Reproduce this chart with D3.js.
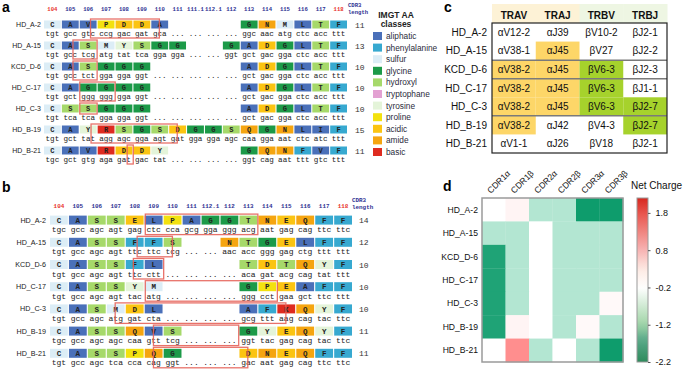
<!DOCTYPE html>
<html>
<head>
<meta charset="utf-8">
<script src="https://cdn.jsdelivr.net/npm/d3@7"></script>
<style>
body { margin: 0; background: #fff; }
svg { display: block; }
</style>
</head>
<body>
<svg id="fig" width="685" height="369"></svg>
<script>
var clones = ['HD_A-2', 'HD_A-15', 'KCD_D-6', 'HD_C-17', 'HD_C-3', 'HD_B-19', 'HD_B-21'];

// panel a - CDR3 alpha
var alphaPositions = ['104','105','106','107','108','109','110','111','111.1','112.1','112','113','114','115','116','117','118'];
var alphaAA = [
    'CAVPDDA----GNMLTF',
    'CASMYSGG--GADGLTF',
    'CASGGG-----ADGLTF',
    'CAGGGG-----ADGLTF',
    'CSSGGG-----ADGLTF',
    'CAYRSGSDGGSQGNLIF',
    'CAVRDDY----GQNFVF'
];
var alphaCodons = [
    'tgt gcc gtc ccg gac gat gca ... ... ... ... ggc aac atg ctc acc ttt',
    'tgt gcc tcg atg tat tca gga gga ... ... ggt gct gac gga ctc acc ttt',
    'tgt gcc tct gga gga ggt ... ... ... ... ... gct gac gga ctc acc ttt',
    'tgt gct ggg ggg gga ggt ... ... ... ... ... gct gac gga ctc acc ttt',
    'tgt tca tca gga gga ggt ... ... ... ... ... gct gac gga ctc acc ttt',
    'tgt gct tat agg agc gga agt gat gga gga agc caa gga aat ctc atc ttt',
    'tgc gct gtg aga gat gac tat ... ... ... ... ggt cag aat ttt gtc ttt'
];
var alphaLength = [11, 13, 10, 10, 10, 15, 11];
// boxed region per clone: [from column, to column, rows covered (2 = aa + codon)]
var alphaBoxes = [[2.6, 6.45, 2], [1.62, 2.97, 2], [1.62, 2.97, 2], [2.0, 3.98, 2], [2.0, 2.97, 1], [2.63, 7.45, 2], [4.65, 4.99, 2]];

// panel b - CDR3 beta
var betaPositions = ['104','105','106','107','108','109','110','111','112.1','112','113','114','115','116','117','118'];
var betaAA = [
    'CASSELPAGGTNEQFF',
    'CASSFFS--NTGELFF',
    'CASSFL----TDTQYF',
    'CASSYM----GPEAFF',
    'CASMDL----AFKQYF',
    'CASSQVS---GYEQYF',
    'CASSPQG---DNEQFF'
];
var betaCodons = [
    'tgc gcc agc agt gag ctc cca gcg gga ggg acg aat gag cag ttc ttc',
    'tgt gcc agc agt ttc ttc tcg ... ... aac acc ggg gag ctg ttt ttt',
    'tgt gcc agc agt ttc ctt ... ... ... ... aca gat acg cag tat ttt',
    'tgt gcc agc agt tac atg ... ... ... ... ggg cct gaa gct ttc ttt',
    'tgt gcc agc atg gat cta ... ... ... ... gcg ttt aag cag tac ttc',
    'tgc gcc agc agc caa gtt tcg ... ... ... ggt tac gag cag tac ttc',
    'tgt gcc agc tca cca cag ggt ... ... ... gac aat gag cag ttc ttc'
];
var betaLength = [14, 12, 10, 10, 10, 11, 11];
var betaBoxes = [[5.03, 10.97, 2], [4.6, 6.46, 2], [4.4, 6.0, 2], [5.03, 12.0, 2], [3.44, 12.45, 2], [5.46, 9.96, 2], [5.46, 10.44, 2]];

// IMGT amino acid classes
var classNames = ['aliphatic', 'phenylalanine', 'sulfur', 'glycine', 'hydroxyl', 'tryptophane', 'tyrosine', 'proline', 'acidic', 'amide', 'basic'];
var classColors = ['#4a70b9', '#37a9d0', '#dcedf6', '#1c9a48', '#a6d96a', '#e3a1d2', '#e4f4d9', '#f3e10f', '#fbc412', '#f5a510', '#de2b20'];
var classMembers = ['AVLI', 'F', 'CM', 'G', 'ST', 'W', 'Y', 'P', 'DE', 'NQ', 'RHK'];

// panel c - gene usage
var segments = ['TRAV', 'TRAJ', 'TRBV', 'TRBJ'];
var trav = ['αV12-2', 'αV38-1', 'αV38-2', 'αV38-2', 'αV38-2', 'αV38-2', 'αV1-1'];
var traj = ['αJ39', 'αJ45', 'αJ45', 'αJ45', 'αJ45', 'αJ42', 'αJ26'];
var trbv = ['βV10-2', 'βV27', 'βV6-3', 'βV6-3', 'βV6-3', 'βV4-3', 'βV18'];
var trbj = ['βJ2-1', 'βJ2-2', 'βJ2-3', 'βJ1-1', 'βJ2-7', 'βJ2-7', 'βJ2-1'];
var sharedGenes = ['αV38-2', 'αJ45', 'βV6-3', 'βJ2-7'];
var groupBreaks = ['KCD_D-6', 'HD_C-17', 'HD_B-19'];

// panel d - net charge
var cdrs = ['CDR1α', 'CDR1β', 'CDR2α', 'CDR2β', 'CDR3α', 'CDR3β'];
var netCharge = [
    [0, 0.1, -1, -1, -2, -2],
    [-1, -1, 0, -1, -1, -1],
    [-1.9, -1, 0, -1, -1, -1],
    [-1.9, -1, 0, -1, -1, -1],
    [-1.9, -1, 0, -1, -1, 0.05],
    [-1.9, 0.1, 0, -1, 0.05, -1],
    [0, 1, -1, 0, -1, -2]
];
var chargeTicks = [1.8, 0.8, -0.2, -1.2, -2.2];

var svg = d3.select('#fig');
var sans = 'Arial, "Liberation Sans", sans-serif';
var mono = '"Liberation Mono", "DejaVu Sans Mono", monospace';

var aaColor = function(a) {
    for (var i = 0; i < classMembers.length; i++) {
        if (classMembers[i].indexOf(a) >= 0) return classColors[i];
    }
    return '#fff';
};

var drawAlignment = function(cfg) {
    var g = svg.append('g');
    var x = d3.scaleBand().domain(cfg.positions).range(cfg.xRange).paddingInner(0.06);
    var y = d3.scaleBand().domain(clones).range(cfg.yRange);
    var last = cfg.positions.length - 1;

    g.selectAll('.pos').data(cfg.positions).enter().append('text')
        .attr('class', 'pos')
        .attr('x', function(d) { return x(d) + x.bandwidth() / 2; })
        .attr('y', cfg.headerY)
        .attr('text-anchor', 'middle')
        .style('font', 'bold ' + cfg.headFont + 'px ' + mono)
        .style('fill', function(d, i) { return (i == 0 || i == last) ? '#e8322a' : '#2e3192'; })
        .text(function(d) { return d; });

    g.append('text').attr('x', cfg.lenHeadX).attr('y', cfg.lenHeadY)
        .style('font', 'bold ' + cfg.headFont + 'px ' + mono).style('fill', '#2e3192').text('CDR3');
    g.append('text').attr('x', cfg.lenHeadX).attr('y', cfg.lenHeadY + 6.5)
        .style('font', 'bold ' + cfg.headFont + 'px ' + mono).style('fill', '#2e3192').text('length');

    clones.forEach(function(clone, r) {
        var cy = y(clone) + y.bandwidth() / 2;
        var codons = cfg.codons[r].split(' ');
        var cells = cfg.aa[r].split('').map(function(a, i) {
            return {aa: a, pos: cfg.positions[i], codon: codons[i]};
        });
        var row = g.append('g');

        row.append('text')
            .attr('x', cfg.labelX).attr('y', cy + 2.5)
            .attr('text-anchor', 'end')
            .style('font', cfg.labelFont + 'px ' + sans).style('fill', '#222')
            .text(clone);

        var filled = cells.filter(function(c) { return c.aa != '-'; });
        row.selectAll('rect').data(filled).enter().append('rect')
            .attr('x', function(d) { return x(d.pos); })
            .attr('y', cy - cfg.cellH / 2)
            .attr('width', x.bandwidth())
            .attr('height', cfg.cellH)
            .style('fill', function(d) { return aaColor(d.aa); });

        row.selectAll('.aa').data(filled).enter().append('text')
            .attr('class', 'aa')
            .attr('x', function(d) { return x(d.pos) + x.bandwidth() / 2; })
            .attr('y', cy + cfg.aaFont * 0.36)
            .attr('text-anchor', 'middle')
            .style('font', 'bold ' + cfg.aaFont + 'px ' + mono).style('fill', '#222')
            .text(function(d) { return d.aa; });

        row.selectAll('.codon').data(cells).enter().append('text')
            .attr('class', 'codon')
            .attr('x', function(d) { return x(d.pos) + x.bandwidth() / 2; })
            .attr('y', cy + cfg.codonDy)
            .attr('text-anchor', 'middle')
            .style('font', cfg.codonFont + 'px ' + mono).style('fill', '#222')
            .text(function(d) { return d.codon; });

        row.append('text')
            .attr('x', cfg.lenX).attr('y', cy + 3)
            .style('font', cfg.lenFont + 'px ' + mono).style('fill', '#333')
            .text(cfg.lengths[r]);

        var b = cfg.boxes[r];
        var x0 = cfg.xRange[0] + b[0] * x.step(), x1 = cfg.xRange[0] + b[1] * x.step();
        var top = cy - cfg.cellH / 2 - 1.5;
        var bottom = b[2] == 2 ? cy + cfg.codonDy + 2.5 : cy + cfg.cellH / 2 + 1.5;
        row.append('rect')
            .attr('x', x0).attr('y', top)
            .attr('width', x1 - x0).attr('height', bottom - top)
            .style('fill', 'none').style('stroke', '#e6635a').style('stroke-width', 1.3)
            .style('stroke-opacity', 0.9);
    });
};

drawAlignment({
    positions: alphaPositions, aa: alphaAA, codons: alphaCodons, lengths: alphaLength, boxes: alphaBoxes,
    xRange: [44, 347], yRange: [14, 161], cellH: 8, headerY: 11, headFont: 5.6,
    aaFont: 7, codonFont: 7.6, codonDy: 11, labelX: 41, labelFont: 7,
    lenX: 355, lenFont: 8, lenHeadX: 348, lenHeadY: 7
});

drawAlignment({
    positions: betaPositions, aa: betaAA, codons: betaCodons, lengths: betaLength, boxes: betaBoxes,
    xRange: [50, 352], yRange: [209, 364.4], cellH: 9, headerY: 207.5, headFont: 5.9,
    aaFont: 7.5, codonFont: 8, codonDy: 12, labelX: 46, labelFont: 7.2,
    lenX: 359, lenFont: 8, lenHeadX: 352, lenHeadY: 202
});

// legend
var legend = svg.append('g');
legend.append('text').attr('x', 396).attr('y', 18).attr('text-anchor', 'middle')
    .style('font', 'bold 8.5px ' + sans).style('fill', '#222').text('IMGT AA');
legend.append('text').attr('x', 396).attr('y', 27).attr('text-anchor', 'middle')
    .style('font', 'bold 8.5px ' + sans).style('fill', '#222').text('classes');
var ly = d3.scaleBand().domain(classNames).range([30.2, 157.8]);
legend.selectAll('rect').data(classNames).enter().append('rect')
    .attr('x', 373).attr('y', function(d) { return ly(d) + ly.bandwidth() / 2 - 4; })
    .attr('width', 9).attr('height', 8)
    .style('fill', function(d, i) { return classColors[i]; });
legend.selectAll('.lt').data(classNames).enter().append('text')
    .attr('class', 'lt')
    .attr('x', 386).attr('y', function(d) { return ly(d) + ly.bandwidth() / 2 + 3; })
    .style('font', '8.3px ' + sans).style('fill', '#2b2b3b')
    .text(function(d) { return d; });

// panel c
var tbl = svg.append('g');
var xt = d3.scaleBand().domain(segments).range([492, 667]);
var yt = d3.scaleBand().domain(clones).range([23, 153]);
var genes = [trav, traj, trbv, trbj];

tbl.selectAll('.hdr').data(segments).enter().append('rect')
    .attr('class', 'hdr')
    .attr('x', function(d) { return xt(d); }).attr('y', 4)
    .attr('width', xt.bandwidth() + 0.5).attr('height', 19)
    .style('fill', function(d, i) { return i < 2 ? '#fdf2d6' : '#eef6e3'; });
tbl.selectAll('.hdrt').data(segments).enter().append('text')
    .attr('class', 'hdrt')
    .attr('x', function(d) { return xt(d) + xt.bandwidth() / 2; }).attr('y', 19)
    .attr('text-anchor', 'middle')
    .style('font', 'bold 10px ' + sans).style('fill', '#111')
    .text(function(d) { return d; });

clones.forEach(function(clone, r) {
    var cy = yt(clone) + yt.bandwidth() / 2;
    tbl.append('text').attr('x', 487).attr('y', cy + 3.5).attr('text-anchor', 'end')
        .style('font', '10px ' + sans).style('fill', '#111').text(clone);
    segments.forEach(function(seg, c) {
        var gene = genes[c][r];
        if (sharedGenes.indexOf(gene) >= 0) {
            tbl.append('rect')
                .attr('x', xt(seg)).attr('y', yt(clone))
                .attr('width', xt.bandwidth()).attr('height', yt.bandwidth())
                .style('fill', c < 2 ? '#fdd668' : '#a6d22c');
        }
        tbl.append('text')
            .attr('x', xt(seg) + xt.bandwidth() / 2).attr('y', cy + 3.5)
            .attr('text-anchor', 'middle')
            .style('font', '10px ' + sans).style('fill', '#111')
            .text(gene);
    });
});
tbl.selectAll('.brk').data(groupBreaks).enter().append('line')
    .attr('class', 'brk')
    .attr('x1', 492).attr('x2', 667)
    .attr('y1', function(d) { return yt(d); }).attr('y2', function(d) { return yt(d); })
    .style('stroke', '#7a7a7a').style('stroke-width', 1.5);
tbl.append('rect').attr('x', 492).attr('y', 23).attr('width', 175).attr('height', 130)
    .style('fill', 'none').style('stroke', '#222').style('stroke-width', 1.2);

// panel d
var hm = svg.append('g');
var xh = d3.scaleBand().domain(cdrs).range([482, 623]);
var yh = d3.scaleBand().domain(clones).range([198, 362]);
var cellColor = d3.scaleLinear()
    .domain([-2, -1, 0, 1, 2])
    .range(['#0e9c6c', '#b3e6d2', '#ffffff', '#ff8e8e', '#e03020'])
    .clamp(true);

clones.forEach(function(clone, r) {
    hm.selectAll('.r' + r).data(netCharge[r]).enter().append('rect')
        .attr('x', function(d, i) { return xh(cdrs[i]); })
        .attr('y', yh(clone))
        .attr('width', xh.bandwidth() + 0.3).attr('height', yh.bandwidth() + 0.3)
        .style('fill', function(d) { return cellColor(d); });
    hm.append('text').attr('x', 478).attr('y', yh(clone) + yh.bandwidth() / 2 + 3)
        .attr('text-anchor', 'end')
        .style('font', '8.6px ' + sans).style('fill', '#111').text(clone);
});
hm.append('rect').attr('x', 482).attr('y', 198).attr('width', 141).attr('height', 164)
    .style('fill', 'none').style('stroke', '#9a9a9a').style('stroke-width', 1.5);
hm.selectAll('.cl').data(cdrs).enter().append('text')
    .attr('class', 'cl')
    .attr('transform', function(d) {
        return 'translate(' + (xh(d) + xh.bandwidth() / 2 - 3) + ',194) rotate(-45)';
    })
    .style('font', '8.6px ' + sans).style('fill', '#111')
    .text(function(d) { return d; });

// colour bar
var yc = d3.scaleLinear().domain([-2.2, 2.2]).range([362, 198]);
var barColor = d3.scaleLinear()
    .domain([-2.2, -1.6, -1.2, -0.2, 0.3, 0.8, 1.8, 2.2])
    .range(['#2e8b5c', '#5aa98a', '#9fd4a6', '#ffffff', '#fde9e2', '#f7b3b3', '#e8544c', '#d7281f']);
var defs = svg.append('defs');
var grad = defs.append('linearGradient').attr('id', 'cbar')
    .attr('x1', 0).attr('x2', 0).attr('y1', 1).attr('y2', 0);
grad.selectAll('stop').data(d3.range(0, 1.0001, 0.05)).enter().append('stop')
    .attr('offset', function(d) { return d; })
    .attr('stop-color', function(d) { return barColor(-2.2 + d * 4.4); });
hm.append('rect').attr('x', 637).attr('y', 198).attr('width', 11).attr('height', 164)
    .style('fill', 'url(#cbar)').style('stroke', '#9a9a9a').style('stroke-width', 1);
var cAxis = hm.append('g').attr('transform', 'translate(648,0)')
    .call(d3.axisRight(yc).tickValues(chargeTicks).tickSize(2.5).tickPadding(5)
        .tickFormat(function(d) { return d.toFixed(1); }));
cAxis.select('.domain').remove();
cAxis.selectAll('line').style('stroke', '#555');
cAxis.selectAll('text').style('font', '9px ' + sans).style('fill', '#111');
hm.append('text').attr('x', 631).attr('y', 189)
    .style('font', '10px ' + sans).style('fill', '#111').text('Net Charge');

// panel letters
var letters = [['a', 2, 12], ['b', 2, 192], ['c', 444, 12], ['d', 443, 191]];
svg.selectAll('.lab').data(letters).enter().append('text')
    .attr('class', 'lab')
    .attr('x', function(d) { return d[1]; }).attr('y', function(d) { return d[2]; })
    .style('font', 'bold 14px ' + sans).style('fill', '#000')
    .text(function(d) { return d[0]; });
</script>
</body>
</html>
